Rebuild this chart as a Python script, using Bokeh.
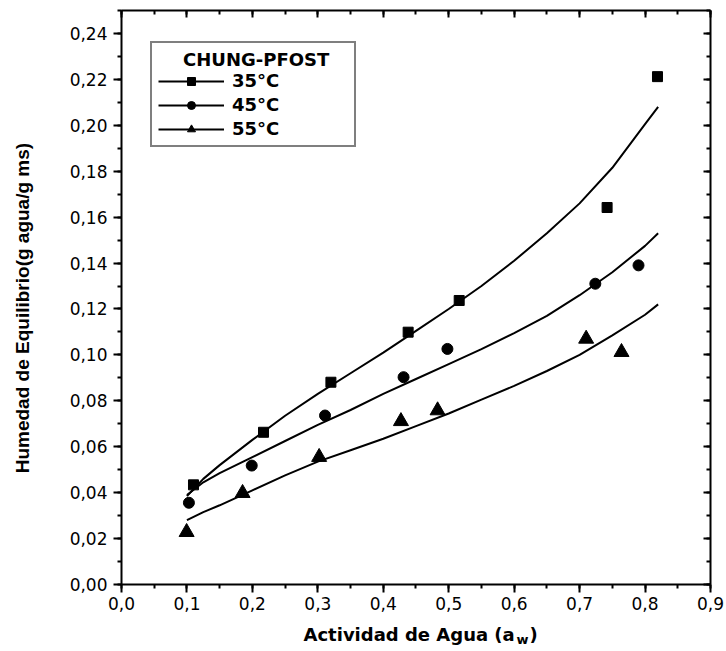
import math
from bokeh.plotting import figure
from bokeh.models import (Range1d, LinearAxis, SingleIntervalTicker, CustomJSTickFormatter,
                          Legend, LegendItem, Label)
from bokeh.embed import file_html
from bokeh.resources import INLINE

# ---- data ----
aw_fit = [0.10, 0.125, 0.15, 0.20, 0.25, 0.30, 0.35, 0.40, 0.45, 0.50, 0.55, 0.60, 0.65, 0.70, 0.75, 0.80, 0.82]
fit_35 = [0.0385, 0.0460, 0.0520, 0.0630, 0.0735, 0.0830, 0.0920, 0.1010, 0.1105, 0.1200, 0.1300, 0.1410, 0.1530, 0.1660, 0.1815, 0.2005, 0.2080]
fit_45 = [0.0390, 0.0445, 0.0485, 0.0555, 0.0625, 0.0695, 0.0760, 0.0830, 0.0895, 0.0960, 0.1025, 0.1095, 0.1170, 0.1260, 0.1360, 0.1475, 0.1530]
fit_55 = [0.0280, 0.0315, 0.0345, 0.0410, 0.0475, 0.0535, 0.0585, 0.0635, 0.0690, 0.0745, 0.0805, 0.0865, 0.0930, 0.1000, 0.1085, 0.1175, 0.1220]

aw_35 = [0.110, 0.217, 0.320, 0.438, 0.516, 0.742, 0.819]
he_35 = [0.0434, 0.0663, 0.0881, 0.1099, 0.1237, 0.1642, 0.2212]
aw_45 = [0.103, 0.199, 0.311, 0.431, 0.498, 0.724, 0.790]
he_45 = [0.0356, 0.0518, 0.0736, 0.0903, 0.1026, 0.1310, 0.1390]
aw_55 = [0.0995, 0.185, 0.302, 0.427, 0.483, 0.710, 0.764]
he_55 = [0.0228, 0.0398, 0.0555, 0.0711, 0.0758, 0.1070, 0.1012]

series_labels = ["35°C", "45°C", "55°C"]
legend_title = "CHUNG-PFOST"
x_title = "Actividad de Agua (a"
x_title_sub = "w"
x_title_end = ")"
y_title = "Humedad de Equilibrio(g agua/g ms)"

X_MIN, X_MAX = 0.0, 0.9
Y_MIN, Y_MAX = 0.0, 0.25
# the frame covers the whole canvas; axes sit at fixed data locations inside it
X_VIEW = (-0.18489, 0.92445)
Y_VIEW = (-0.02918, 0.25436)

TICK_FONT = "DejaVu Sans"
BOLD_FONT = "DejaVu Sans"

p = figure(width=726, height=651, x_range=Range1d(*X_VIEW), y_range=Range1d(*Y_VIEW),
           output_backend="svg", toolbar_location=None,
           min_border_left=0, min_border_right=0, min_border_top=0, min_border_bottom=0)
p.xgrid.visible = False
p.ygrid.visible = False
p.outline_line_color = None
p.background_fill_color = "white"
p.border_fill_color = "white"

xfmt = CustomJSTickFormatter(code="return tick.toFixed(1).replace('.', ',');")
yfmt = CustomJSTickFormatter(code="return tick.toFixed(2).replace('.', ',');")

def style_axis(ax, ticker, fmt, outward=True):
    ax.ticker = ticker
    ax.formatter = fmt
    ax.axis_line_width = 2
    ax.axis_line_color = "black"
    ax.major_tick_line_width = 2
    ax.minor_tick_line_width = 2
    ax.major_tick_line_color = "black"
    ax.minor_tick_line_color = "black"
    if outward:
        ax.major_tick_out = 8
        ax.major_tick_in = 0
        ax.minor_tick_out = 4
        ax.minor_tick_in = 0
        ax.major_label_text_font = TICK_FONT
        ax.major_label_text_font_size = "17px"
        ax.major_label_text_color = "black"
    else:
        ax.major_tick_out = 0
        ax.major_tick_in = 7
        ax.minor_tick_out = 0
        ax.minor_tick_in = 4
        ax.major_label_text_font_size = "0px"
        ax.major_label_standoff = 0

xax = p.xaxis[0]
yax = p.yaxis[0]
style_axis(xax, SingleIntervalTicker(interval=0.1, num_minor_ticks=2), xfmt)
style_axis(yax, SingleIntervalTicker(interval=0.02, num_minor_ticks=2), yfmt)
xax.fixed_location = Y_MIN
xax.bounds = (X_MIN, X_MAX)
xax.major_label_standoff = 4
yax.fixed_location = X_MIN
yax.bounds = (Y_MIN, Y_MAX)
yax.major_label_standoff = 6

top = LinearAxis(fixed_location=Y_MAX, bounds=(X_MIN, X_MAX))
right = LinearAxis(fixed_location=X_MAX, bounds=(Y_MIN, Y_MAX))
style_axis(top, SingleIntervalTicker(interval=0.1, num_minor_ticks=2), xfmt, outward=False)
style_axis(right, SingleIntervalTicker(interval=0.02, num_minor_ticks=2), yfmt, outward=False)
p.add_layout(top, "above")
p.add_layout(right, "right")

l35 = p.line(aw_fit, fit_35, line_color="black", line_width=2)
l45 = p.line(aw_fit, fit_45, line_color="black", line_width=2)
l55 = p.line(aw_fit, fit_55, line_color="black", line_width=2)
s35 = p.scatter(aw_35, he_35, marker="square", size=10, fill_color="black", line_color="black")
s45 = p.scatter(aw_45, he_45, marker="circle", size=11, fill_color="black", line_color="black")
s55 = p.scatter(aw_55, he_55, marker="triangle", size=15, fill_color="black", line_color="black")

legend = Legend(items=[LegendItem(label=series_labels[0], renderers=[l35, s35]),
                       LegendItem(label=series_labels[1], renderers=[l45, s45]),
                       LegendItem(label=series_labels[2], renderers=[l55, s55])],
                location=(150, 504),
                title="\u00a0" * 4 + legend_title + "\u00a0" * 3,
                title_text_font=BOLD_FONT, title_text_font_style="bold", title_text_font_size="18px",
                title_text_color="black", title_standoff=0,
                label_text_font=BOLD_FONT, label_text_font_style="bold", label_text_font_size="18px",
                label_text_color="black",
                border_line_color="black", border_line_width=2,
                padding=6, spacing=3, margin=0,
                glyph_width=66, glyph_height=20, label_height=20, label_standoff=8,
                background_fill_color="white", background_fill_alpha=1)
p.add_layout(legend)

lab_kw = dict(text_font=BOLD_FONT, text_font_style="bold", text_color="black",
              text_align="left", text_baseline="alphabetic")
p.add_layout(Label(x=0.2781, y=-0.0218, text=x_title, text_font_size="18px", **lab_kw))
p.add_layout(Label(x=0.6036, y=-0.0240, text=x_title_sub, text_font_size="13px", **lab_kw))
p.add_layout(Label(x=0.6235, y=-0.0218, text=x_title_end, text_font_size="18px", **lab_kw))

p.add_layout(Label(x=-0.1513, y=0.1204, text=y_title, angle=math.pi / 2,
                   text_font="Liberation Sans", text_font_style="bold", text_font_size="19px",
                   text_color="black", text_align="center", text_baseline="middle"))

open("out.html", "w").write(file_html(p, INLINE))
